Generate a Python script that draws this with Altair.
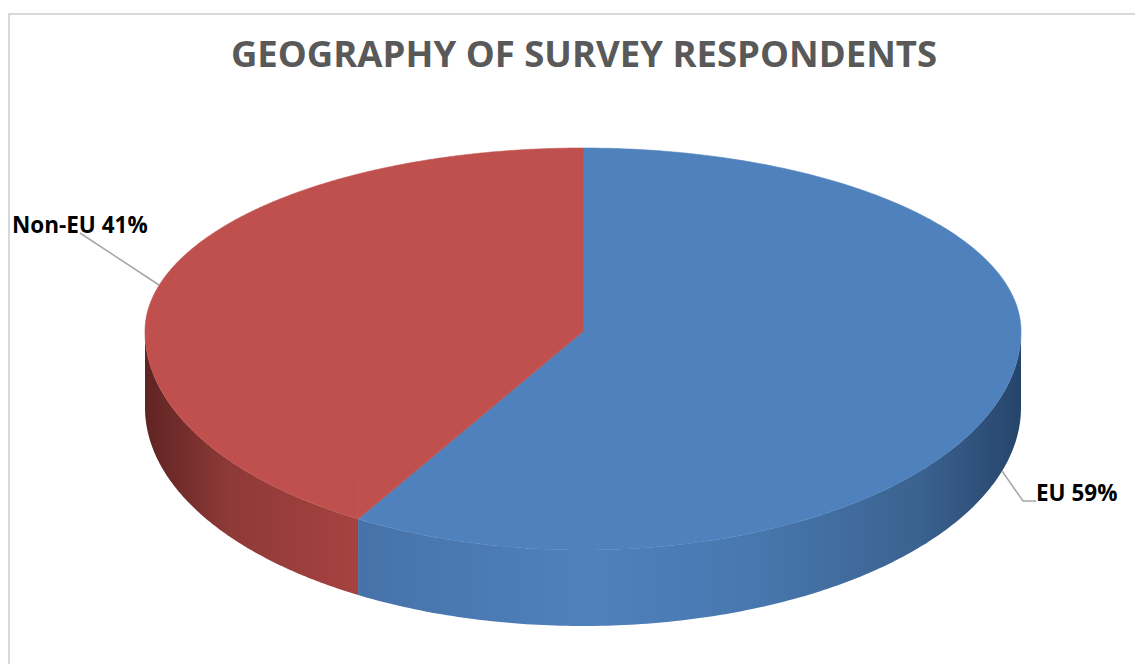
import math
import altair as alt
import pandas as pd

labels = ["EU", "Non-EU"]
shares = [59, 41]
title = "GEOGRAPHY OF SURVEY RESPONDENTS"
label_text = ["EU 59%", "Non-EU 41%"]
blue_wall = ["#4672a8", "#4f81bd", "#4877ae", "#3a628f", "#26456b"]
red_wall = ["#5f2422", "#8e3a38", "#a64240"]

CX, CY, A, B_UP, B_DOWN, DEPTH = 583, 331.5, 438, 183.5, 218.5, 76
W, H = 1127, 656
view_tilt = 1.5  # degrees lost to the perspective of the 3-D view


def upper(x):
    return CY - B_UP * math.sqrt(max(0, 1 - ((x - CX) / A) ** 2))


def lower(x):
    return CY + B_DOWN * math.sqrt(max(0, 1 - ((x - CX) / A) ** 2))


theta = math.radians(360 * shares[0] / sum(shares) - view_tilt)
split_x = CX + A * math.sin(theta)
split_y = lower(split_x)


def diagonal(x):
    return CY + (split_y - CY) * (x - CX) / (split_x - CX)


def xs(x0, x1, n=160):
    t0 = math.asin(max(-1, min(1, (x0 - CX) / A)))
    t1 = math.asin(max(-1, min(1, (x1 - CX) / A)))
    return [CX + A * math.sin(t0 + (t1 - t0) * i / n) for i in range(n + 1)]


def part(x0, x1, top, bottom):
    return [{"x": x, "y": top(x), "y2": bottom(x)} for x in xs(x0, x1)]


scale_x = alt.Scale(domain=[8, 8 + W], range=[0, W], nice=False, zero=False)
scale_y = alt.Scale(domain=[8, 8 + H], range=[0, H], nice=False, zero=False)
X = alt.X("x:Q", scale=scale_x, axis=None)
Y = alt.Y("y:Q", scale=scale_y, axis=None)
Y2 = alt.Y2("y2:Q")


def gradient(colors, positions):
    return alt.Gradient(
        gradient="linear", x1=0, x2=1, y1=0, y2=0,
        stops=[alt.GradientStop(color=c, offset=p) for c, p in zip(colors, positions)],
    )


def area(rows, fill, stroke=None):
    kw = {"stroke": stroke, "strokeWidth": 0.6} if stroke else {}
    return alt.Chart(pd.DataFrame(rows)).mark_area(
        fill=fill, interpolate="linear", **kw
    ).encode(x=X, y=Y, y2=Y2)


layers = [
    area(part(split_x, CX + A, lower, lambda x: lower(x) + DEPTH),
         gradient(blue_wall, [0, 0.34, 0.6, 0.85, 1])),
    area(part(CX - A, split_x, lower, lambda x: lower(x) + DEPTH),
         gradient(red_wall, [0, 0.4, 1])),
    area(part(split_x, CX, diagonal, lower), "#4f81bd", "#4f81bd"),
    area(part(CX, CX + A, upper, lower), "#4f81bd", "#4f81bd"),
    area(part(CX - A, split_x, upper, lower), "#c0504d", "#c0504d"),
    area(part(split_x, CX, upper, diagonal), "#c0504d", "#c0504d"),
]

# chart frame: only its top and left edges fall inside the picture
frame = pd.DataFrame({"x": [9, 9, 8 + W], "y": [8 + H, 14, 14], "o": [0, 1, 2]})
layers.append(
    alt.Chart(frame).mark_line(color="#d9d9d9", strokeWidth=2).encode(x=X, y=Y, order="o:Q")
)

# leader lines
leaders = pd.DataFrame(
    [
        {"s": "Non-EU", "o": 0, "x": 80, "y": 233},
        {"s": "Non-EU", "o": 1, "x": 159, "y": 285},
        {"s": "EU", "o": 0, "x": 1002, "y": 471},
        {"s": "EU", "o": 1, "x": 1023, "y": 501},
        {"s": "EU", "o": 2, "x": 1036, "y": 501},
    ]
)
layers.append(
    alt.Chart(leaders).mark_line(color="#a6a6a6", strokeWidth=1.5).encode(
        x=X, y=Y, detail="s:N", order="o:Q"
    )
)

label_df = pd.DataFrame({"text": label_text, "x": [1036, 12], "y": [494, 226]})
layers.append(
    alt.Chart(label_df).mark_text(
        font="Open Sans", fontWeight="bold", fontSize=22.5, color="#000000",
        align="left", baseline="middle",
    ).encode(x=X, y=Y, text="text:N")
)

layers.append(
    alt.Chart(pd.DataFrame({"text": [title], "x": [584], "y": [56]})).mark_text(
        font="Open Sans", fontWeight="bold", fontSize=36.5, color="#595959",
        align="center", baseline="middle",
    ).encode(x=X, y=Y, text="text:N")
)

chart = alt.layer(*layers).properties(
    width=W, height=H, padding=0, autosize=alt.AutoSizeParams(type="none"),
    background="#ffffff",
).configure_view(stroke=None)

chart.save("out.html", embed_options={"renderer": "svg", "actions": False})
